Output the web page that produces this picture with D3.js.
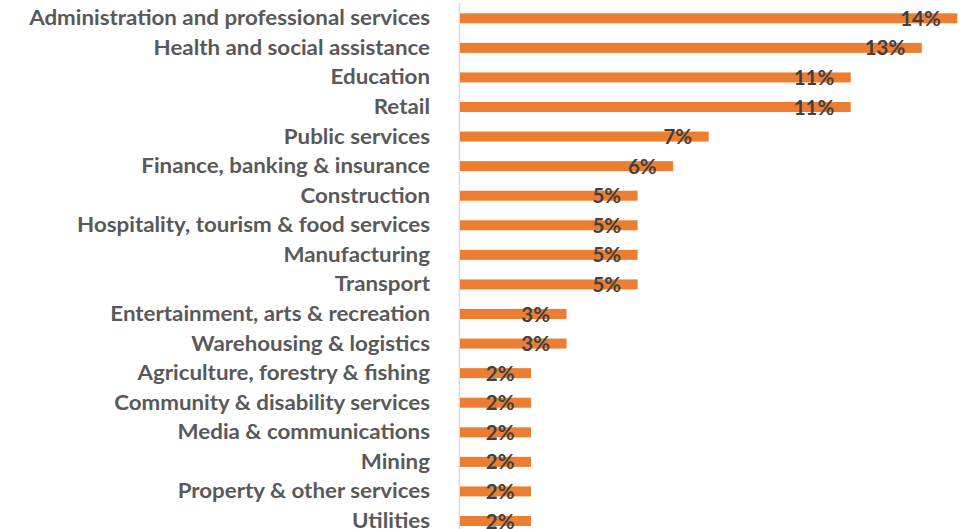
<!DOCTYPE html>
<html>
<head>
<meta charset="utf-8">
<script src="https://cdn.jsdelivr.net/npm/d3@7/dist/d3.min.js"></script>
<style>
  html, body { margin: 0; padding: 0; background: #fff; }
  svg { display: block; }
</style>
</head>
<body>
<div id="chart"></div>
<script>
// Share of jobs by industry (%)
const industries = [
  "Administration and professional services",
  "Health and social assistance",
  "Education",
  "Retail",
  "Public services",
  "Finance, banking & insurance",
  "Construction",
  "Hospitality, tourism & food services",
  "Manufacturing",
  "Transport",
  "Entertainment, arts & recreation",
  "Warehousing & logistics",
  "Agriculture, forestry & fishing",
  "Community & disability services",
  "Media & communications",
  "Mining",
  "Property & other services",
  "Utilities"
];
const shares = [14, 13, 11, 11, 7, 6, 5, 5, 5, 5, 3, 3, 2, 2, 2, 2, 2, 2];

const width = 972, height = 529;
const data = industries.map((name, i) => ({ name, value: shares[i] }));

const svg = d3.select("#chart").append("svg")
  .attr("width", width)
  .attr("height", height);

const x = d3.scaleLinear().domain([0, 14]).range([460, 957.3]);
const y = d3.scalePoint().domain(industries).range([18.3, 521]);
const barH = 10;
const font = "Lato, 'Open Sans', sans-serif";
const labelRight = 430;
const labelSpan = 401; // width taken by the longest category label

// vertical category axis line
svg.append("line")
  .attr("x1", 459.5).attr("x2", 459.5)
  .attr("y1", 3).attr("y2", height)
  .attr("stroke", "#d9d9d9")
  .attr("stroke-width", 1.5);

// bars
svg.append("g").selectAll("rect")
  .data(data)
  .join("rect")
  .attr("x", x(0))
  .attr("y", d => y(d.name) - barH / 2)
  .attr("width", d => x(d.value) - x(0))
  .attr("height", barH)
  .attr("fill", "#ED7D31");

// category labels, widened slightly to mimic a condensed face
const labels = svg.append("g").selectAll("text")
  .data(data)
  .join("text")
  .attr("text-anchor", "end")
  .attr("font-family", font)
  .attr("font-weight", 700)
  .attr("font-size", 20)
  .attr("fill", "#595959")
  .text(d => d.name);

const longest = d3.max(labels.nodes(), n => n.getComputedTextLength());
const sx = labelSpan / longest;
labels.attr("transform", d => `translate(${labelRight},${y(d.name) + 7}) scale(${sx},1)`);

// value labels near bar ends
svg.append("g").selectAll("text")
  .data(data)
  .join("text")
  .attr("x", d => x(d.value) - 16.5)
  .attr("y", d => y(d.name) + 7.5)
  .attr("text-anchor", "end")
  .attr("font-family", font)
  .attr("font-weight", 700)
  .attr("font-size", 20.5)
  .attr("fill", "#404040")
  .text(d => d.value + "%");
</script>
</body>
</html>
